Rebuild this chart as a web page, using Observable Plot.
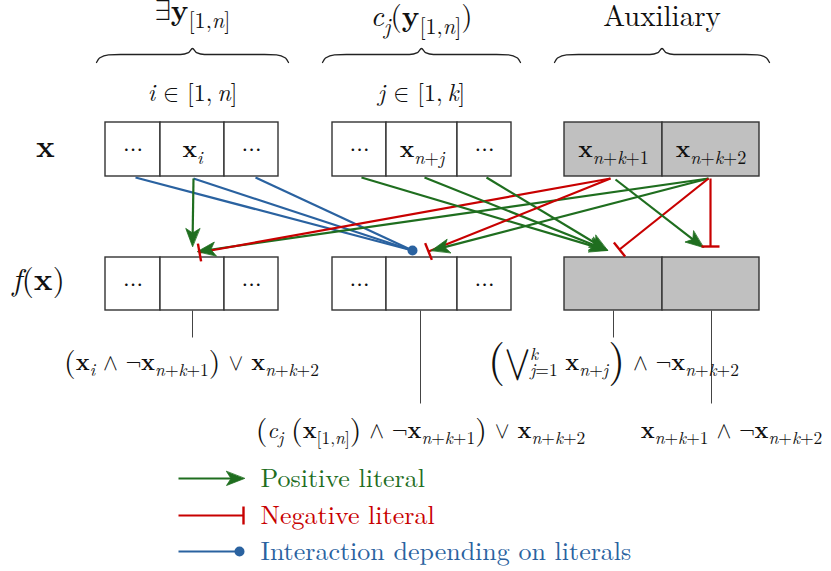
<!DOCTYPE html>
<html><head><meta charset="utf-8">
<script src="https://cdn.jsdelivr.net/npm/d3@7"></script>
<script src="https://cdn.jsdelivr.net/npm/@observablehq/plot@0.6"></script>
<style>body{margin:0;background:#fff}</style>
</head><body><div id="chart"></div>
<script>
const GREEN = "#1f6e1f", RED = "#c80000", BLUE = "#2a62a0", GREY = "#c0c0c0";
const FONT = "Latin Modern Roman";
const MATHFONT = "Latin Modern Math";
const typeColor = {pos: GREEN, neg: RED, int: BLUE};

// ---- cells (two rows: x and f(x)) ----
const cellX1 = [105, 160, 224, 332, 386, 457, 564, 662];
const cellX2 = [160, 224, 278, 386, 457, 511, 662, 759];
const cellFill = ["#fff", "#fff", "#fff", "#fff", "#fff", "#fff", GREY, GREY];
const xRowLabels = ["$⋯", "$*x*_{i}", "$⋯", "$⋯", "$*x*_{n+j}", "$⋯", "$*x*_{n+k+1}", "$*x*_{n+k+2}"];
const fRowLabels = ["$⋯", "", "$⋯", "$⋯", "", "$⋯", "", ""];
const rowTop = {x: 122, f: 257};
const rowBottom = {x: 176, f: 310};
const rowLabelY = {x: 149, f: 284};

// ---- groups ----
const groupTitles = ["$∃*y*_{[1,n]}", "$c_{j}(*y*_{[1,n]})", "Auxiliary"];
const groupRanges = ["$i ∈ [1,\u2009n]", "$j ∈ [1,\u2009k]", ""];
const braceX1 = [96, 322, 554];
const braceX2 = [288, 520, 769];

// ---- row names ----
const rowNames = ["$*x*", "$f(*x*)"];

// ---- outputs ----
const outputs = [
  "$\\(*x*_{i} ∧ ¬*x*_{n+k+1}\\) ∨ *x*_{n+k+2}",
  "$\\(c_{j} \\(*x*_{[1,n]}\\) ∧ ¬*x*_{n+k+1}\\) ∨ *x*_{n+k+2}",
  "$@(\\⋁_{j=1}^{k} *x*_{n+j}@) ∧ ¬*x*_{n+k+2}",
  "$*x*_{n+k+1} ∧ ¬*x*_{n+k+2}"
];
const outX = [191, 420, 613, 731];
const outY = [362, 430, 362, 430];
const connX = [192, 420, 613, 711];
const connEnd = [337, 403, 337, 403];

// ---- anchor points of edges ----
const anchors = {
  xL1: [135, 177], xi: [193, 178], xL3: [255, 177],
  xM1: [361, 177], xnj: [424, 177], xM3: [486, 177],
  xa1: [610, 178], xa1b: [615, 179], xa2: [708, 178], xa2b: [710, 178],
  fiTop: [192, 246], fiSide: [197, 251], fiNeg: [199, 252],
  fcDot: [412, 250], fcNeg: [428, 251], fcPos: [431, 250],
  fa1Pos: [607, 250], fa1Neg: [619, 249], fa2Pos: [703, 247], fa2Neg: [710, 246]
};
const edges = [
  ["xL1", "fcDot", "int"], ["xi", "fcDot", "int"], ["xL3", "fcDot", "int"],
  ["xi", "fiTop", "pos"],
  ["xa2", "fiSide", "pos"], ["xa1", "fiNeg", "neg"],
  ["xM1", "fa1Pos", "pos"], ["xnj", "fa1Pos", "pos"], ["xM3", "fa1Pos", "pos"],
  ["xa1", "fcNeg", "neg"], ["xa2", "fcPos", "pos"],
  ["xa2", "fa1Neg", "neg"], ["xa1b", "fa2Pos", "pos"], ["xa2b", "fa2Neg", "neg"]
];

// ---- legend ----
const legendTypes = ["pos", "neg", "int"];
const legendLabels = ["Positive literal", "Negative literal", "Interaction depending on literals"];
const legendY = [478, 515, 551];
const legendStart = 178, legendEnd = {pos: 244, neg: 243, int: 239};

// ---------- derived geometry ----------
const HL = 18, HW = 7, TB = 9;
const segs = edges.map(([a, b, type]) => ({a: anchors[a], b: anchors[b], type}))
  .concat(legendTypes.map((t, i) => ({a: [legendStart, legendY[i]], b: [legendEnd[t], legendY[i]], type: t})))
  .map(({a, b, type}) => {
    const [x1, y1] = a, [x2, y2] = b;
    const L = Math.hypot(x2 - x1, y2 - y1), ux = (x2 - x1) / L, uy = (y2 - y1) / L;
    return {x1, y1, x2, y2, ux, uy, type, color: typeColor[type]};
  });
const lines = segs.map(s => ({...s,
  ex: s.type === "pos" ? s.x2 - s.ux * HL * 0.7 : s.x2,
  ey: s.type === "pos" ? s.y2 - s.uy * HL * 0.7 : s.y2}));
const heads = segs.filter(s => s.type === "pos").flatMap((s, k) => {
  const nx = -s.uy, ny = s.ux, bx = s.x2 - s.ux * HL, by = s.y2 - s.uy * HL;
  return [
    {id: k, x: s.x2, y: s.y2},
    {id: k, x: bx + nx * HW, y: by + ny * HW},
    {id: k, x: s.x2 - s.ux * HL * 0.75, y: s.y2 - s.uy * HL * 0.75},
    {id: k, x: bx - nx * HW, y: by - ny * HW}
  ];
});
const bars = segs.filter(s => s.type === "neg").map(s => {
  const nx = -s.uy, ny = s.ux;
  return {x1: s.x2 + nx * TB, y1: s.y2 + ny * TB, x2: s.x2 - nx * TB, y2: s.y2 - ny * TB};
});
const dots = segs.filter(s => s.type === "int").filter((s, i, arr) => arr.findIndex(o => o.x2 === s.x2 && o.y2 === s.y2) === i);

const boxes = cellX1.flatMap((x1, i) => ["x", "f"].map(r => ({x1, x2: cellX2[i], y1: rowTop[r], y2: rowBottom[r], fill: cellFill[i]})));
const cellLabels = cellX1.flatMap((x1, i) => [
  {x: (x1 + cellX2[i]) / 2, y: rowLabelY.x - (xRowLabels[i] === "$⋯" ? 1 : 0), text: xRowLabels[i]},
  {x: (x1 + cellX2[i]) / 2, y: rowLabelY.f - 1, text: fRowLabels[i]}
]).filter(d => d.text);

const braces = braceX1.flatMap((x1, i) => {
  const x2 = braceX2[i], m = (x1 + x2) / 2, y = 54;
  return [[x1, y + 8], [x1 + 3, y + 3.5], [x1 + 12, y + 0.3], [x1 + 24, y], [m - 12, y], [m - 4, y - 1.8], [m, y - 6],
          [m + 4, y - 1.8], [m + 12, y], [x2 - 24, y], [x2 - 12, y + 0.3], [x2 - 3, y + 3.5], [x2, y + 8]]
    .map(([x, yy]) => ({id: i, x, y: yy}));
});

const headY = [10, 16, 16];
const headTexts = groupTitles.map((t, i) => ({x: (braceX1[i] + braceX2[i]) / 2, y: headY[i], text: t}));
const rangeTexts = groupRanges.map((t, i) => ({x: (braceX1[i] + braceX2[i]) / 2, y: 93, text: t})).filter(d => d.text);
const rowNameTexts = rowNames.map((t, i) => ({x: i ? 38 : 45, y: i ? 280 : 147, text: t}));
const outTexts = outputs.map((t, i) => ({x: outX[i], y: outY[i], text: t}));
const connectors = connX.map((x, i) => ({x, y1: rowBottom.f, y2: connEnd[i]}));
const legendTexts = legendTypes.map((t, i) => ({x: 260, y: legendY[i], text: legendLabels[i], color: typeColor[t]}));

const chart = Plot.plot({
  width: 831, height: 571, margin: 0,
  x: {domain: [0, 831], range: [0, 831], axis: null},
  y: {domain: [0, 571], range: [0, 571], axis: null},
  color: {type: "identity"},
  marks: [
    Plot.line(braces, {x: "x", y: "y", z: "id", curve: "monotone-x", stroke: "#222", strokeWidth: 1.3}),
    Plot.rect(boxes, {x1: "x1", x2: "x2", y1: "y1", y2: "y2", fill: "fill", stroke: "#333", strokeWidth: 1.4}),
    Plot.link(connectors, {x1: "x", x2: "x", y1: "y1", y2: "y2", stroke: "#444", strokeWidth: 1}),
    Plot.link(lines, {x1: "x1", y1: "y1", x2: "ex", y2: "ey", stroke: "color", strokeWidth: 2.2}),
    Plot.line(heads, {x: "x", y: "y", z: "id", fill: GREEN, stroke: GREEN, strokeWidth: 0.8, curve: "linear-closed"}),
    Plot.link(bars, {x1: "x1", y1: "y1", x2: "x2", y2: "y2", stroke: RED, strokeWidth: 2.4}),
    Plot.dot(dots, {x: "x2", y: "y2", r: 5, fill: BLUE, stroke: null}),
    Plot.text(cellLabels, {x: "x", y: "y", text: "text", fontSize: 24, fontFamily: FONT, fill: "#111"}),
    Plot.text(headTexts, {x: "x", y: "y", text: "text", fontSize: 29, fontFamily: FONT, fill: "#111"}),
    Plot.text(rangeTexts, {x: "x", y: "y", text: "text", fontSize: 24, fontFamily: FONT, fill: "#111"}),
    Plot.text(rowNameTexts, {x: "x", y: "y", text: "text", fontSize: 31, fontFamily: FONT, fill: "#111"}),
    Plot.text(outTexts, {x: "x", y: "y", text: "text", fontSize: 23, fontFamily: FONT, fill: "#111"}),
    Plot.text(legendTexts, {x: "x", y: "y", text: "text", fontSize: 26, fontFamily: FONT, fill: "color", textAnchor: "start"})
  ]
});
document.getElementById("chart").appendChild(chart);

// ---- turn light math markup into tspans ----
const NS = "http://www.w3.org/2000/svg";
const SYMBOLS = "∃∈∧∨¬⋁⋯";
function renderMath(t) {
  let raw = t.textContent;
  if (!raw.startsWith("$")) return;
  raw = raw.slice(1);
  const base = parseFloat(getComputedStyle(t).fontSize);
  t.textContent = "";
  const stack = [{scale: 1, shift: 0, tspans: [], sub: false}];
  let cur = 0, bold = false, big = 1, justClosed = null, pendingDx = 0;
  const width = arr => arr.reduce((s, e) => s + e.getComputedTextLength(), 0);
  for (let i = 0; i < raw.length; i++) {
    const c = raw[i];
    const top = stack[stack.length - 1];
    if ((c === "_" || c === "^") && raw[i + 1] === "{") {
      const sub = c === "_";
      const fr = {scale: top.scale * 0.76, shift: top.shift + (sub ? 0.27 : -0.45) * base * top.scale, tspans: [], sub};
      if (!sub && justClosed) { fr.subW = width(justClosed); fr.dx = -fr.subW; }
      stack.push(fr); i++; justClosed = null; continue;
    }
    if (c === "}" && stack.length > 1) {
      const fr = stack.pop();
      justClosed = fr.sub ? fr.tspans : null;
      if (fr.subW !== undefined) pendingDx = Math.max(0, fr.subW - width(fr.tspans));
      continue;
    }
    justClosed = null;
    if (c === "*") { bold = !bold; continue; }
    if (c === "\\") { big = 1.3; continue; }
    if (c === "@") { big = 1.9; continue; }
    const ts = document.createElementNS(NS, "tspan");
    ts.textContent = c;
    const fs = base * top.scale * big;
    ts.setAttribute("font-size", fs);
    if (SYMBOLS.includes(c)) ts.setAttribute("font-family", MATHFONT);
    if (bold) ts.setAttribute("font-weight", "bold");
    if (/[a-zA-Z]/.test(c) && !bold) ts.setAttribute("font-style", "italic");
    const target = top.shift + (big > 1 ? (big - 1) * 0.27 * base : 0);
    if (target !== cur) ts.setAttribute("dy", target - cur);
    cur = target;
    let dx = 0;
    if (top.dx !== undefined && top.tspans.length === 0) dx += top.dx;
    if (pendingDx) { dx += pendingDx; pendingDx = 0; }
    if (dx) ts.setAttribute("dx", dx);
    t.appendChild(ts);
    stack.forEach(f => { if (f !== stack[0]) f.tspans.push(ts); });
    big = 1;
  }
}
chart.querySelectorAll("text").forEach(renderMath);
</script>
</body></html>
